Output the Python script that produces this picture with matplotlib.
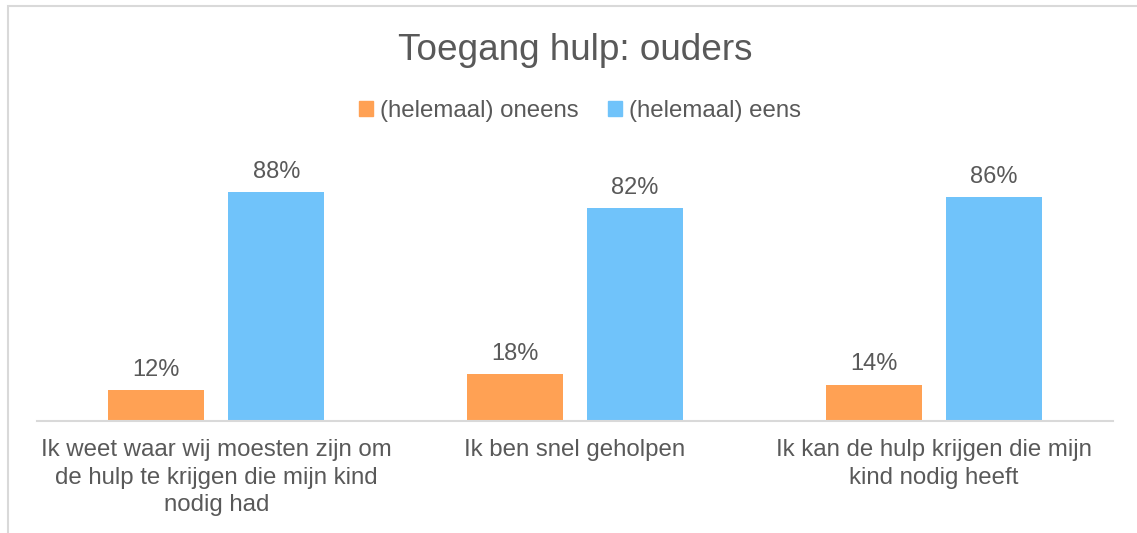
import numpy as np
import matplotlib.pyplot as plt
from matplotlib.patches import Patch, Rectangle

plt.rcParams["font.family"] = ["Liberation Sans", "DejaVu Sans"]

categories = [
    "Ik weet waar wij moesten zijn om\nde hulp te krijgen die mijn kind\nnodig had",
    "Ik ben snel geholpen",
    "Ik kan de hulp krijgen die mijn\nkind nodig heeft",
]
series_names = ["(helemaal) oneens", "(helemaal) eens"]
oneens = [12, 18, 14]
eens = [88, 82, 86]

colors = ["#FFA154", "#70C3FA"]
text_color = "#595959"

fig = plt.figure(figsize=(11.37, 5.33), dpi=100)
ax = fig.add_axes([0.0325, 0.2101, 0.9464, 0.488])

x = np.arange(len(categories))
w = 0.268
off = 0.167
for vals, dx, c in [(oneens, -off, colors[0]), (eens, off, colors[1])]:
    bars = ax.bar(x + dx, vals, width=w, color=c)
    for b, v in zip(bars, vals):
        ax.text(b.get_x() + b.get_width() / 2, v + 3.5, f"{v}%",
                ha="center", va="bottom", fontsize=17, color=text_color)

ax.set_xlim(-0.5, 2.5)
ax.set_ylim(0, 100)
ax.set_yticks([])
ax.set_xticks(x)
ax.set_xticklabels(categories, fontsize=17.3, color=text_color, linespacing=1.33)
ax.tick_params(axis="x", length=0, pad=13)
for s in ["top", "left", "right"]:
    ax.spines[s].set_visible(False)
ax.spines["bottom"].set_color("#D9D9D9")
ax.spines["bottom"].set_linewidth(1.5)

fig.text(0.5057, 0.905, "Toegang hulp: ouders", ha="center", va="center",
         fontsize=26.6, color=text_color)

handles = [Patch(color=c) for c in colors]
fig.legend(handles, series_names, loc="center", bbox_to_anchor=(0.51, 0.792),
           ncol=2, frameon=False, fontsize=17.3, labelcolor=text_color,
           handlelength=0.6, handleheight=0.6, handletextpad=0.3,
           columnspacing=1.2)

fig.patches.append(Rectangle((8 / 1137, -0.1), 1.2, 0.9887 + 0.1,
                             transform=fig.transFigure, fill=False,
                             edgecolor="#D9D9D9", linewidth=1.5))

fig.savefig("out.png", dpi=100)
